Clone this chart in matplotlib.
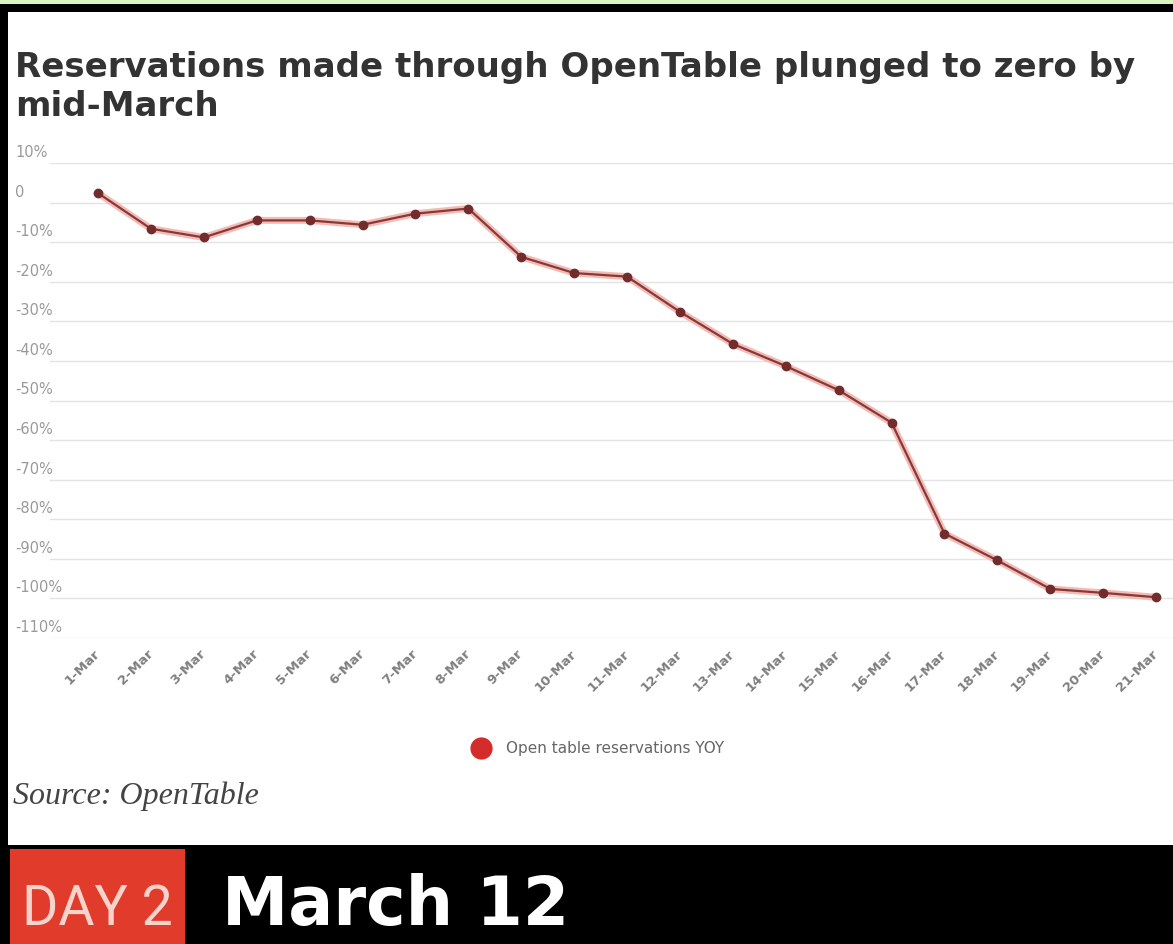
import numpy as np
import matplotlib.pyplot as plt
from matplotlib.lines import Line2D
from matplotlib.patches import Rectangle

# data (YOY change, %)
dates = ["1-Mar", "2-Mar", "3-Mar", "4-Mar", "5-Mar", "6-Mar", "7-Mar", "8-Mar",
         "9-Mar", "10-Mar", "11-Mar", "12-Mar", "13-Mar", "14-Mar", "15-Mar",
         "16-Mar", "17-Mar", "18-Mar", "19-Mar", "20-Mar", "21-Mar"]
values = [2.4, -6.6, -8.8, -4.5, -4.5, -5.6, -2.8, -1.5, -13.7, -17.8, -18.7,
          -27.6, -35.7, -41.3, -47.4, -55.6, -83.6, -90.4, -97.6, -98.6, -99.7]
yticks = [10, 0, -10, -20, -30, -40, -50, -60, -70, -80, -90, -100, -110]
ytick_labels = ["10%", "0", "-10%", "-20%", "-30%", "-40%", "-50%", "-60%",
                "-70%", "-80%", "-90%", "-100%", "-110%"]
title_lines = ["Reservations made through OpenTable plunged to zero by", "mid-March"]
legend_label = "Open table reservations YOY"
source_text = "Source: OpenTable"
day_text = "DAY 2"
date_text = "March 12"

W, H = 1173, 944

def fx(px):
    return px / W

def fy(py):
    return 1 - py / H

fig = plt.figure(figsize=(W / 100, H / 100), dpi=100)
fig.patch.set_facecolor("white")

# frame / banner pieces
fig.add_artist(Rectangle((0, fy(4)), 1, 4 / H, transform=fig.transFigure, color="#d8f5c2", lw=0))
fig.add_artist(Rectangle((0, fy(12)), 1, 8 / H, transform=fig.transFigure, color="black", lw=0))
fig.add_artist(Rectangle((0, fy(845)), 8 / W, 833 / H, transform=fig.transFigure, color="black", lw=0))
fig.add_artist(Rectangle((0, 0), 1, (H - 845) / H, transform=fig.transFigure, color="black", lw=0))
fig.add_artist(Rectangle((fx(10), 0), 175 / W, (H - 849) / H, transform=fig.transFigure, color="#e03b2b", lw=0))

ax = fig.add_axes([fx(50), fy(638), (1173 - 50) / W, (638 - 163) / H])
x = np.arange(len(dates))
ax.plot(x, values, color="#f5bab3", lw=5, solid_joinstyle="round", zorder=2)
ax.plot(x, values, color="#843a3a", lw=1.6, marker="o", ms=6,
        mfc="#732c2c", mec="#732c2c", zorder=3)
ax.set_xlim(-0.907, 20.32)
ax.set_ylim(-110, 10)
ax.set_yticks(yticks)
ax.set_yticklabels([])
ax.grid(axis="y", color="#e3e3e3", lw=1)
for s in ax.spines.values():
    s.set_visible(False)
ax.tick_params(axis="y", length=0)
ax.set_xticks(x)
ax.set_xticklabels(dates, rotation=45, ha="right", va="center", rotation_mode="anchor",
                   fontsize=9.5, color="#808080", fontweight="bold")
ax.tick_params(axis="x", length=0, pad=10)

for v, lbl in zip(yticks, ytick_labels):
    ax.annotate(lbl, xy=(0, v), xycoords=("axes fraction", "data"), xytext=(-35, 3),
                textcoords="offset pixels", ha="left", va="bottom",
                fontsize=10.5, color="#9a9a9a")

# title
fig.text(fx(15), fy(77), title_lines[0], fontsize=24.5, fontweight="bold", color="#333333", va="baseline")
fig.text(fx(15), fy(116), title_lines[1], fontsize=24.5, fontweight="bold", color="#333333", va="baseline")

# legend
h = Line2D([], [], marker="o", ls="none", color="#d42b2b", ms=15)
fig.legend(handles=[h], labels=[legend_label], loc="center", bbox_to_anchor=(fx(595), fy(749)),
           frameon=False, fontsize=11, labelcolor="#666666", handletextpad=0.6)

fig.text(fx(13), fy(796), source_text, family="Liberation Serif", style="italic",
         fontsize=23, color="#444444", va="center")

# bottom banner
fig.text(fx(97), fy(925), day_text, family=["Roboto", "DejaVu Sans"],
         fontsize=40, color="#f7d3cc", ha="center", va="baseline")
fig.text(fx(222), fy(925), date_text, fontsize=48, fontweight="heavy", color="white",
         ha="left", va="baseline")

fig.savefig("out.png", dpi=100)
